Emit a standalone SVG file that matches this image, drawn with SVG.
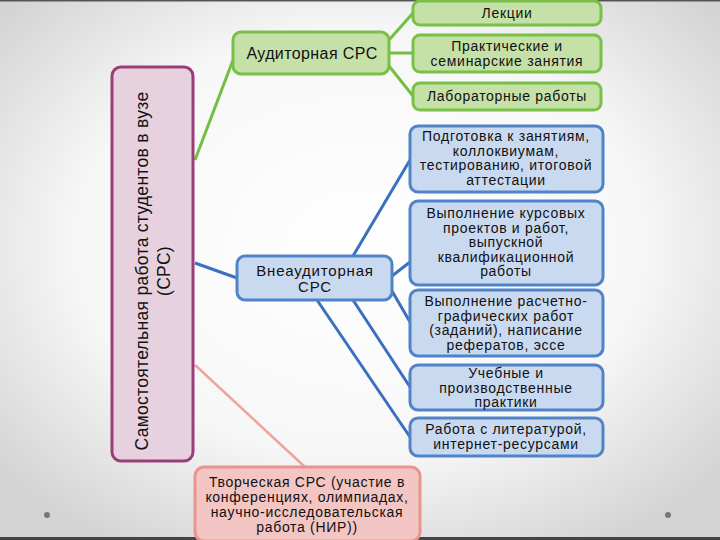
<svg xmlns="http://www.w3.org/2000/svg" width="720" height="540" viewBox="0 0 720 540">
<defs>
<radialGradient id="bg" cx="50%" cy="45%" r="65%">
<stop offset="0" stop-color="#ffffff"/>
<stop offset="0.6" stop-color="#f7f7f7"/>
<stop offset="1" stop-color="#d4d4d4"/>
</radialGradient>
<style>
text{font-family:"Liberation Sans",Arial,sans-serif;fill:#111;text-anchor:middle}
.g{fill:#c6e1a8;stroke:#79c048;stroke-width:3}
.b{fill:#c9daf0;stroke:#4f84c8;stroke-width:3}
.p{fill:#f3c5c3;stroke:#e8958e;stroke-width:3}
.m{fill:#e7d1df;stroke:#9a3e79;stroke-width:3}
.t{font-size:14px;letter-spacing:0.7px}
.cg{stroke:#72bf42;stroke-width:3;fill:none}
.cb{stroke:#3b6fc0;stroke-width:3;fill:none}
.cp{stroke:#eda59e;stroke-width:2.5;fill:none}
</style>
</defs>
<rect width="720" height="540" fill="url(#bg)"/>
<rect width="720" height="1.5" fill="#555"/>
<rect y="537" width="720" height="3" fill="#444"/>
<circle cx="47" cy="515" r="3" fill="#777"/>
<circle cx="668" cy="515" r="3" fill="#777"/>

<g id="connectors">
<line class="cg" x1="195" y1="160" x2="233" y2="60"/>
<line class="cg" x1="389" y1="40" x2="413" y2="13"/>
<line class="cg" x1="389" y1="53" x2="413" y2="53"/>
<line class="cg" x1="389" y1="66" x2="413" y2="96"/>
<line class="cb" x1="195" y1="263" x2="237" y2="278"/>
<line class="cb" x1="353" y1="256" x2="410" y2="160"/>
<line class="cb" x1="392" y1="276" x2="410" y2="262"/>
<line class="cb" x1="392" y1="291" x2="410" y2="322"/>
<line class="cb" x1="353" y1="300" x2="410" y2="387"/>
<line class="cb" x1="317" y1="300" x2="410" y2="437"/>
<line class="cp" x1="195" y1="365" x2="305" y2="467"/>
</g>

<g id="main">
<rect class="m" x="112" y="67" width="81" height="394" rx="9"/>
<text transform="translate(148,271) rotate(-90)" font-size="17.5" letter-spacing="0.3">Самостоятельная работа студентов в вузе<tspan x="0" dy="22">(СРС)</tspan></text>
</g>

<g id="auditory">
<rect class="g" x="233" y="32" width="156" height="42" rx="8"/>
<text x="312" y="59" font-size="16" letter-spacing="0.4">Аудиторная СРС</text>
</g>
<g id="lectures">
<rect class="g" x="413" y="1" width="188" height="24" rx="7"/>
<text class="t" x="507" y="18">Лекции</text>
</g>
<g id="practical">
<rect class="g" x="413" y="35" width="188" height="37" rx="7"/>
<text class="t" x="507" y="51">Практические и<tspan x="507" dy="15">семинарские занятия</tspan></text>
</g>
<g id="labs">
<rect class="g" x="413" y="83" width="188" height="27" rx="7"/>
<text class="t" x="507" y="101">Лабораторные работы</text>
</g>

<g id="extra">
<rect class="b" x="237" y="256" width="155" height="44" rx="8"/>
<text x="315" y="276" font-size="15" letter-spacing="0.8">Внеаудиторная<tspan x="315" dy="16">СРС</tspan></text>
</g>
<g id="prep">
<rect class="b" x="410" y="126" width="193" height="66" rx="8"/>
<text class="t" x="506" y="141">Подготовка к занятиям,<tspan x="506" dy="14.5">коллоквиумам,</tspan><tspan x="506" dy="14.5">тестированию, итоговой</tspan><tspan x="506" dy="14.5">аттестации</tspan></text>
</g>
<g id="course">
<rect class="b" x="410" y="201" width="193" height="84" rx="8"/>
<text class="t" x="506" y="218">Выполнение курсовых<tspan x="506" dy="14.5">проектов и работ,</tspan><tspan x="506" dy="14.5">выпускной</tspan><tspan x="506" dy="14.5">квалификационной</tspan><tspan x="506" dy="14.5">работы</tspan></text>
</g>
<g id="calc">
<rect class="b" x="410" y="290" width="193" height="66" rx="8"/>
<text class="t" x="506" y="306">Выполнение расчетно-<tspan x="506" dy="14.5">графических работ</tspan><tspan x="506" dy="14.5">(заданий), написание</tspan><tspan x="506" dy="14.5">рефератов, эссе</tspan></text>
</g>
<g id="practice">
<rect class="b" x="410" y="365" width="193" height="45" rx="8"/>
<text class="t" x="506" y="378">Учебные и<tspan x="506" dy="14.5">производственные</tspan><tspan x="506" dy="14.5">практики</tspan></text>
</g>
<g id="literature">
<rect class="b" x="410" y="418" width="193" height="38" rx="8"/>
<text class="t" x="506" y="434">Работа с литературой,<tspan x="506" dy="14.5">интернет-ресурсами</tspan></text>
</g>

<g id="creative">
<rect class="p" x="195" y="467" width="225" height="74" rx="9"/>
<text class="t" x="307" y="487">Творческая СРС (участие в<tspan x="307" dy="15">конференциях, олимпиадах,</tspan><tspan x="307" dy="15">научно-исследовательская</tspan><tspan x="307" dy="15">работа (НИР))</tspan></text>
</g>
</svg>
